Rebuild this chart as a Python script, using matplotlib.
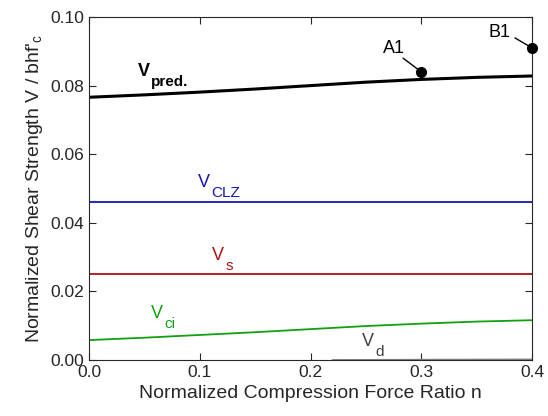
import numpy as np
import matplotlib.pyplot as plt

plt.rcParams['font.family'] = ['Liberation Sans', 'DejaVu Sans']
plt.rcParams['mathtext.fontset'] = 'custom'
plt.rcParams['mathtext.rm'] = 'Liberation Sans'
plt.rcParams['mathtext.it'] = 'Liberation Sans'

# data
n = [0.0, 0.05, 0.1, 0.15, 0.2, 0.25, 0.3, 0.35, 0.4]
v_pred = [0.0766, 0.0773, 0.0781, 0.0790, 0.0800, 0.0810, 0.0818, 0.0824, 0.0828]
v_clz = [0.0461] * 9
v_s = [0.0250] * 9
v_ci = [0.0058, 0.0065, 0.0073, 0.0081, 0.0090, 0.0099, 0.0106, 0.0112, 0.0116]
n_d = [0.22, 0.25, 0.3, 0.35, 0.4]
v_d = [0.0, 0.00003, 0.00008, 0.00012, 0.00015]

test_names = ['A1', 'B1']
test_n = [0.3, 0.4]
test_v = [0.0840, 0.0910]
test_text = [(0.2754, 0.0895), (0.3711, 0.0942)]
test_lead = [(0.2836, 0.0880), (0.3846, 0.0939)]

blue, red, green, grey = '#1515b5', '#b01010', '#10a010', '#404040'

fig = plt.figure(figsize=(5.48, 4.16), dpi=100)
ax = fig.add_axes([89/548, 56/416, 443/548, 343/416])

ax.plot(n, v_pred, color='black', lw=2.2)
ax.plot(n, v_clz, color=blue, lw=1.3)
ax.plot(n, v_s, color=red, lw=1.3)
ax.plot(n, v_ci, color=green, lw=1.3)
ax.plot(n_d, v_d, color='#808080', lw=1.3)

ax.plot(test_n, test_v, 'o', color='black', ms=7, clip_on=False, zorder=5)
for name, x, y, (tx, ty), (lx, ly) in zip(test_names, test_n, test_v, test_text, test_lead):
    ax.text(tx, ty, name, fontsize=13, ha='center', va='baseline')
    ax.annotate('', xy=(x, y), xytext=(lx, ly), annotation_clip=False,
                arrowprops=dict(arrowstyle='-', color='black', lw=1, shrinkA=0, shrinkB=2))


def label(x, y, sub, color, weight='normal'):
    ax.text(x, y, 'V', fontsize=13, color=color, weight=weight, va='baseline')
    ax.annotate(sub, xy=(x, y), xytext=(9.5, -7), textcoords='offset points',
                fontsize=11, color=color, weight=weight, va='baseline')


label(0.0442, 0.0828, 'pred.', 'black', 'bold')
label(0.0984, 0.0504, 'CLZ', blue)
label(0.1111, 0.0292, 's', red)
label(0.0560, 0.0122, 'ci', green)
label(0.2465, 0.0041, 'd', grey)

ax.set_xlim(0, 0.4)
ax.set_ylim(0, 0.1)
ax.set_xticks([0, 0.1, 0.2, 0.3, 0.4])
ax.set_yticks([0, 0.02, 0.04, 0.06, 0.08, 0.1])
ax.set_xticklabels(['0.0', '0.1', '0.2', '0.3', '0.4'])
ax.set_yticklabels(['0.00', '0.02', '0.04', '0.06', '0.08', '0.10'])
ax.tick_params(direction='in', top=True, right=True, labelsize=12.5, colors='#262626', length=5)
for s in ax.spines.values():
    s.set_color('#262626')
    s.set_linewidth(0.8)

ax.set_xlabel('Normalized Compression Force Ratio n', fontsize=14, color='#262626')
ax.set_ylabel(r"Normalized Shear Strength V / bhf$'_{\mathrm{c}}$", fontsize=14, color='#262626')

fig.savefig('out.png', dpi=100)
